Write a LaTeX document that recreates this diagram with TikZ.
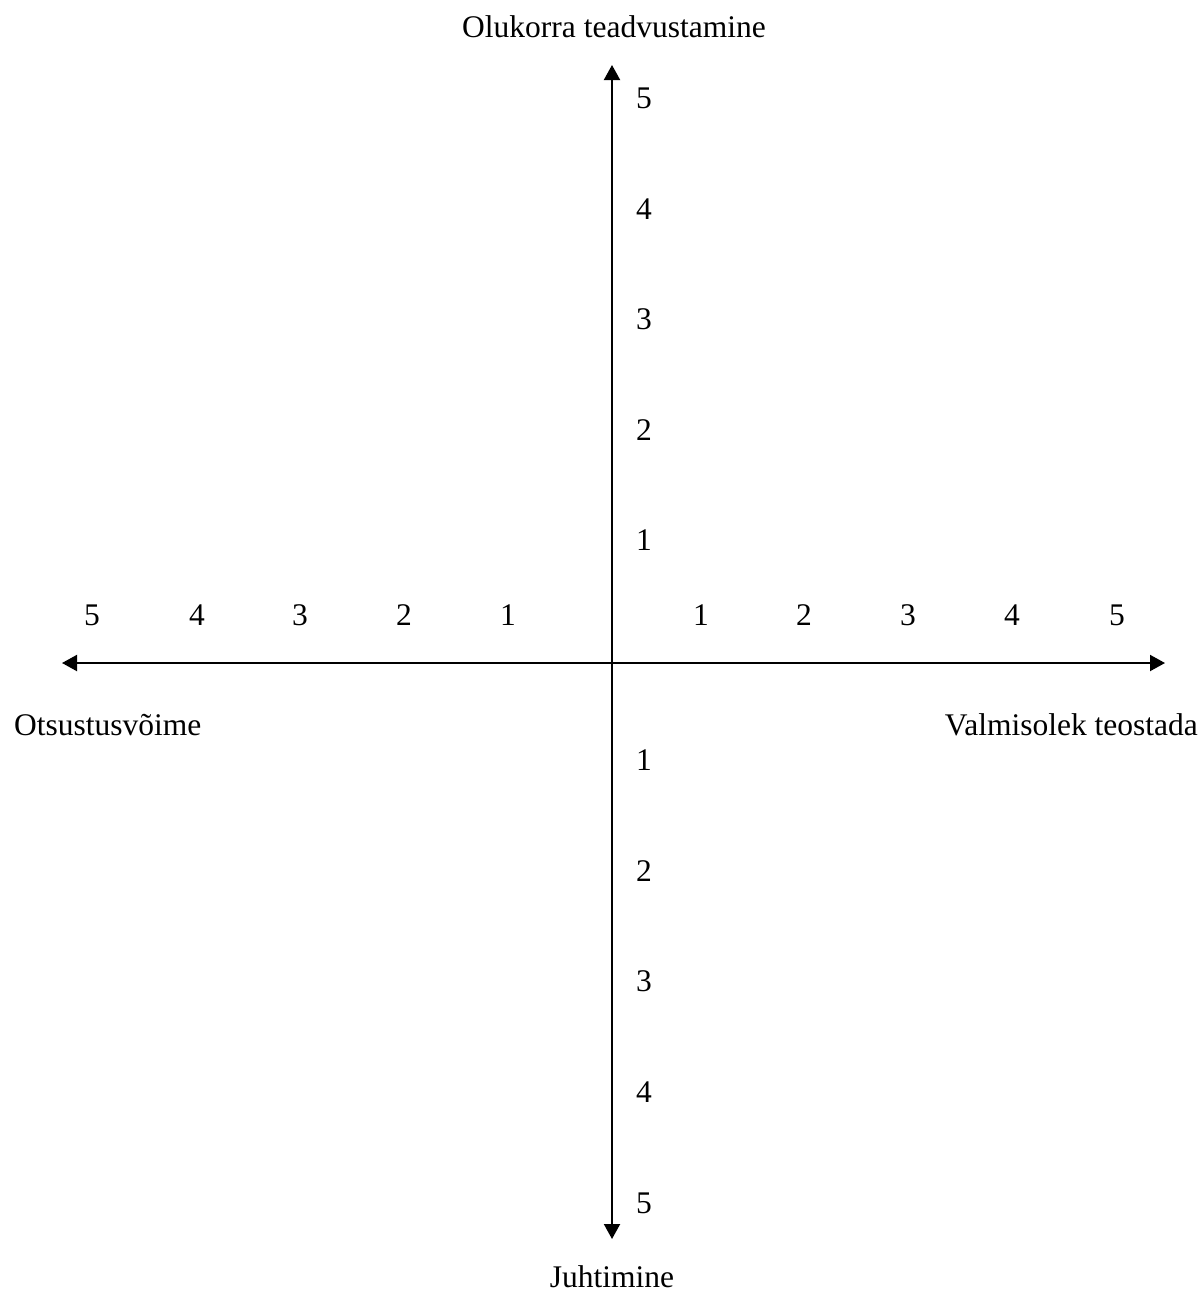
\documentclass[tikz,border=0pt]{standalone}
\usepackage{fontspec}
\setmainfont{Liberation Serif}
\usetikzlibrary{arrows.meta}
\begin{document}
\begin{tikzpicture}[x=1pt,y=-1pt,
  lbl/.style={inner sep=0pt,font=\fontsize{31.5}{36}\selectfont},
  num/.style={lbl,anchor=base},
  axisline/.style={line width=2pt,{Triangle[length=15pt,width=16pt]}-{Triangle[length=15pt,width=16pt]}}]
\useasboundingbox (0,0) rectangle (1203,1294);
\coordinate (W) at (62,663);
\coordinate (E) at (1165,663);
\coordinate (N) at (612,65);
\coordinate (S) at (612,1239);
\draw[axisline] (W) -- (E);
\draw[axisline] (N) -- (S);
\node[lbl,anchor=base] (top) at (614,37) {Olukorra teadvustamine};
\node[lbl,anchor=base] (bot) at (612,1287) {Juhtimine};
\node[lbl,anchor=base west] (left) at (14,735) {Otsustusvõime};
\node[lbl,anchor=base east] (right) at (1198,735) {Valmisolek teostada};
% vertical numbers
\foreach \v/\y [count=\i] in {5/108,4/219,3/329,2/440,1/550}
  \node[num] (vu\i) at (644,\y) {\v};
\foreach \v/\y [count=\i] in {1/770,2/881,3/991,4/1102,5/1213}
  \node[num] (vd\i) at (644,\y) {\v};
% horizontal numbers
\foreach \v/\x [count=\i] in {5/92,4/197,3/300,2/404,1/508}
  \node[num] (hl\i) at (\x,625) {\v};
\foreach \v/\x [count=\i] in {1/701,2/804,3/908,4/1012,5/1117}
  \node[num] (hr\i) at (\x,625) {\v};
\end{tikzpicture}
\end{document}
